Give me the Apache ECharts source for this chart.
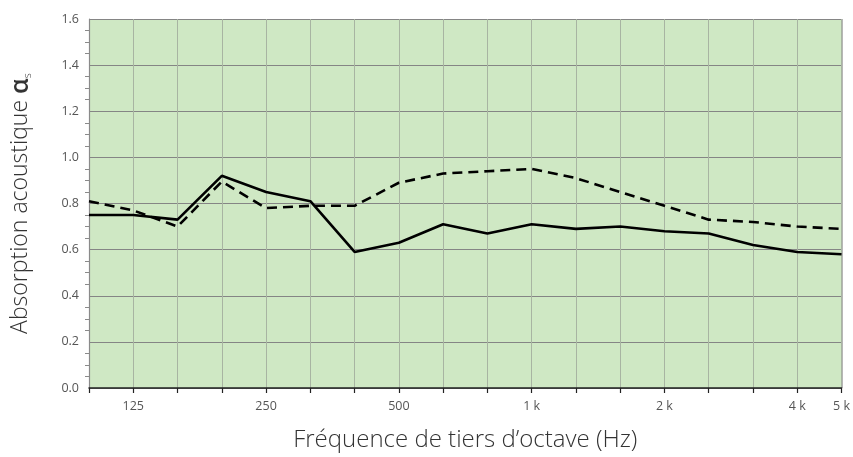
<!DOCTYPE html>
<html>
<head>
<meta charset="utf-8">
<script src="https://cdn.jsdelivr.net/npm/echarts@6/dist/echarts.min.js"></script>
<style>
html,body{margin:0;padding:0;background:#fff;}
#chart{width:853px;height:457px;}
</style>
</head>
<body>
<div id="chart"></div>
<script>
// bandes de tiers d'octave 100 Hz .. 5 kHz
var frequencies = ['100','125','160','200','250','315','400','500','630','800','1 k','1.25 k','1.6 k','2 k','2.5 k','3.15 k','4 k','5 k'];
var tickLabels = ['', '125', '', '', '250', '', '', '500', '', '', '1 k', '', '', '2 k', '', '', '4 k', '5 k'];
var solidValues = [0.75,0.75,0.73,0.92,0.85,0.81,0.59,0.63,0.71,0.67,0.71,0.69,0.70,0.68,0.67,0.62,0.59,0.58];
var dashedValues = [0.81,0.77,0.70,0.895,0.78,0.79,0.79,0.89,0.93,0.94,0.95,0.91,0.85,0.79,0.73,0.72,0.70,0.69];

function toPoints(values){
    return values.map(function(v, i){ return [i, v]; });
}

var myChart = echarts.init(document.getElementById('chart'));
var font = '"Open Sans", "Noto Sans", sans-serif';
var option = {
    animation: false,
    grid: {
        left: 89,
        right: 11,
        top: 19,
        bottom: 69,
        show: true,
        backgroundColor: '#cfe8c4',
        borderWidth: 0
    },
    xAxis: {
        type: 'value',
        min: 0,
        max: frequencies.length - 1,
        interval: 1,
        name: 'Fréquence de tiers d’octave (Hz)',
        nameLocation: 'middle',
        nameGap: 40,
        nameTextStyle: {color: '#333', fontSize: 24, fontWeight: 300, fontFamily: font},
        axisLine: {show: true, lineStyle: {color: '#222', width: 1.5}},
        axisTick: {show: true, length: 5, lineStyle: {color: '#222', width: 1.2}},
        axisLabel: {
            color: '#555', fontSize: 12.5, fontFamily: font, margin: 12,
            showMinLabel: true, showMaxLabel: true,
            formatter: function(v){ return tickLabels[Math.round(v)] || ''; }
        },
        splitLine: {show: true, lineStyle: {color: '#a8b4a2', width: 1}}
    },
    yAxis: {
        type: 'value',
        min: 0,
        max: 1.6,
        interval: 0.2,
        name: 'Absorption acoustique {a|α}{s|s}',
        nameLocation: 'middle',
        nameGap: 56,
        nameTextStyle: {
            color: '#333', fontSize: 23, fontWeight: 300, fontFamily: font,
            rich: {
                a: {fontSize: 25, fontWeight: 600, color: '#333', fontFamily: font},
                s: {fontSize: 11, color: '#333', fontFamily: font, verticalAlign: 'bottom', padding: [10, 0, 0, 0]}
            }
        },
        axisLine: {show: true, lineStyle: {color: '#8a8a8a', width: 1.2}},
        axisTick: {show: false},
        minorTick: {show: true, splitNumber: 4, length: 4, lineStyle: {color: '#8a8a8a'}},
        axisLabel: {
            color: '#555', fontSize: 12.5, fontFamily: font, margin: 10,
            formatter: function(v){ return v.toFixed(1); }
        },
        splitLine: {show: true, lineStyle: {color: '#858585', width: 1.2}}
    },
    series: [
        {
            type: 'line',
            data: toPoints(solidValues),
            symbol: 'none',
            lineStyle: {color: '#000', width: 2.6, type: 'solid'}
        },
        {
            type: 'line',
            data: toPoints(dashedValues),
            symbol: 'none',
            lineStyle: {color: '#000', width: 2.6, type: [10, 6]}
        }
    ],
    graphic: [
        {type: 'line', shape: {x1: 842, y1: 19, x2: 842, y2: 388}, style: {stroke: '#858585', lineWidth: 1.2}}
    ]
};
myChart.setOption(option);
</script>
</body>
</html>
